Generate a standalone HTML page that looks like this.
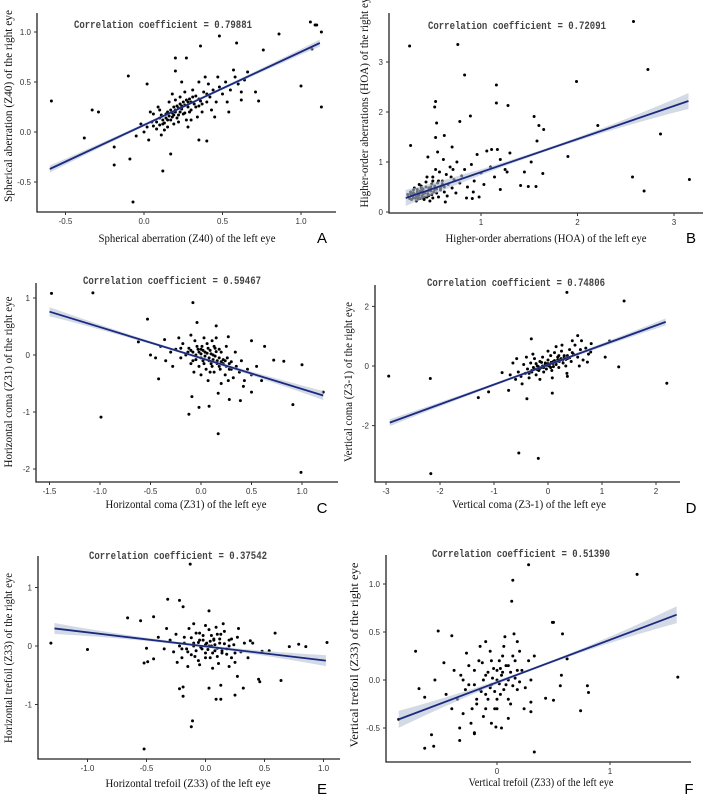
<!DOCTYPE html>
<html><head><meta charset="utf-8">
<style>
html,body{margin:0;padding:0;background:#fff;}
svg{display:block;}
.tick{font-family:"Liberation Sans",sans-serif;font-size:8px;fill:#333;}
.ttl{font-family:"Liberation Serif",serif;font-size:12px;fill:#111;}
.corr{font-family:"Liberation Mono",monospace;font-size:11px;font-weight:bold;fill:#444;}
.lett{font-family:"Liberation Sans",sans-serif;font-size:15px;fill:#000;}
</style></head>
<body>
<svg id="fig" width="708" height="799" viewBox="0 0 708 799" xmlns="http://www.w3.org/2000/svg"></svg>
<script>
// ---- data ----
const corrLabels = ["0.79881","0.72091","0.59467","0.74806","0.37542","0.51390"];
const aXTicks=[-0.5,0,0.5,1.0], aXTickLabels=["-0.5","0.0","0.5","1.0"], aYTicks=[1.0,0.5,0,-0.5], aYTickLabels=["1.0","0.5","0.0","-0.5"];
const bXTicks=[1,2,3], bXTickLabels=["1","2","3"], bYTicks=[0,1,2,3], bYTickLabels=["0","1","2","3"];
const cXTicks=[-1.5,-1,-0.5,0,0.5,1], cXTickLabels=["-1.5","-1.0","-0.5","0.0","0.5","1.0"], cYTicks=[1,0,-1,-2], cYTickLabels=["1","0","-1","-2"];
const dXTicks=[-3,-2,-1,0,1,2], dXTickLabels=["-3","-2","-1","0","1","2"], dYTicks=[2,0,-2], dYTickLabels=["2","0","-2"];
const eXTicks=[-1,-0.5,0,0.5,1], eXTickLabels=["-1.0","-0.5","0.0","0.5","1.0"], eYTicks=[1,0,-1], eYTickLabels=["1","0","-1"];
const fXTicks=[0,1], fXTickLabels=["0","1"], fYTicks=[1,0.5,0,-0.5], fYTickLabels=["1.0","0.5","0.0","-0.5"];

const aFitX=[-0.6,1.12], aFitY=[-0.37,0.89];
const bFitX=[0.22,3.15], bFitY=[0.28,2.22];
const cFitX=[-1.5,1.21], cFitY=[0.76,-0.71];
const dFitX=[-2.93,2.18], dFitY=[-1.9,1.48];
const eFitX=[-1.28,1.02], eFitY=[0.3,-0.25];
const fFitX=[-0.87,1.59], fFitY=[-0.41,0.68];

const aPoints=[[-0.59,0.31],[-0.38,-0.06],[-0.33,0.22],[-0.29,0.2],[-0.19,-0.15],[-0.19,-0.33],[-0.09,-0.27],[-0.07,-0.7],[-0.1,0.56],[0.02,0.48],[0.12,-0.39],[0.17,-0.22],[0.36,0.86],[0.48,0.96],[0.59,0.89],[0.76,0.82],[0.86,0.98],[1.0,0.46],[1.06,1.1],[1.09,1.07],[1.1,1.07],[1.13,1.0],[1.13,0.25],[1.07,0.83],[0.35,-0.08],[0.4,-0.09],[0.54,0.2],[0.71,0.4],[0.73,0.31],[0.62,0.32],[0.2,0.74],[0.27,0.74],[0.2,0.61],[0.24,0.5],
[0.02,0.05],[0.05,0.1],[0.08,0.03],[0.1,0.14],[0.12,0.08],[0.14,0.18],[0.15,0.12],[0.17,0.22],[0.18,0.15],[0.2,0.2],[0.21,0.26],[0.22,0.17],[0.24,0.23],[0.25,0.3],[0.26,0.19],[0.28,0.25],[0.29,0.33],[0.3,0.22],[0.32,0.28],[0.33,0.36],[0.35,0.26],[0.36,0.31],[0.38,0.4],[0.4,0.3],[0.42,0.35],[0.44,0.42],[0.46,0.3],[0.48,0.45],[0.5,0.38],[0.52,0.5],[0.55,0.42],[0.58,0.55],[0.6,0.48],[0.64,0.52],[0.1,0.22],[0.13,0.02],[0.16,0.3],[0.19,0.08],[0.23,0.35],[0.27,0.12],[0.31,0.42],[0.34,0.15],[0.37,0.2],[0.41,0.48],[0.43,0.22],[0.47,0.55],[0.06,0.18],[0.0,0.0],[-0.02,0.08],[-0.05,-0.04],[0.03,-0.08],[0.09,0.25],[0.2,0.32],[0.26,0.4],[0.3,0.12],[0.39,0.55],[0.45,0.15],[0.53,0.3],[0.15,0.05],[0.22,0.1],[0.11,-0.03],[0.18,0.38],[0.35,0.5],[0.28,0.05],[0.04,0.2],[0.57,0.62],[0.62,0.4],[0.66,0.6]];
const aCore=[[0.12,0.12],[0.14,0.14],[0.16,0.16],[0.18,0.19],[0.2,0.22],[0.22,0.24],[0.24,0.26],[0.26,0.27],[0.28,0.3],[0.3,0.3],[0.15,0.2],[0.19,0.25],[0.23,0.28],[0.27,0.32],[0.31,0.35],[0.13,0.09],[0.17,0.12],[0.21,0.14],[0.25,0.18],[0.29,0.2],[0.33,0.25],[0.08,0.1],[0.06,0.06],[0.1,0.07],[0.35,0.33],[0.37,0.28],[0.4,0.38],[0.11,0.17],[0.23,0.2],[0.19,0.17]];
const bPoints=[[0.26,3.32],[0.76,3.35],[2.58,3.81],[0.83,2.74],[2.73,2.85],[1.16,2.54],[1.99,2.61],[1.16,2.18],[1.28,2.13],[0.53,2.21],[0.52,2.1],[0.89,1.92],[0.78,1.81],[0.54,1.78],[1.55,1.91],[1.6,1.73],[1.65,1.65],[2.21,1.73],[2.86,1.56],[1.9,1.11],[0.62,1.53],[0.53,1.49],[0.27,1.33],[2.57,0.7],[2.69,0.42],[3.16,0.65],[1.58,1.42],[1.49,0.51],[1.57,0.51],[1.41,0.53],[1.45,0.8],[1.64,0.77],[1.52,1.0],[1.17,1.25],[1.11,1.25],[1.27,0.8],[0.91,0.27],[1.2,0.45],
[0.25,0.3],[0.28,0.25],[0.3,0.38],[0.32,0.28],[0.34,0.45],[0.35,0.32],[0.37,0.27],[0.38,0.52],[0.4,0.36],[0.42,0.3],[0.43,0.6],[0.45,0.42],[0.46,0.33],[0.48,0.5],[0.5,0.28],[0.5,0.7],[0.52,0.45],[0.54,0.38],[0.55,0.58],[0.57,0.8],[0.58,0.48],[0.6,0.62],[0.62,0.4],[0.64,0.75],[0.66,0.55],[0.68,0.9],[0.7,0.48],[0.72,0.65],[0.75,1.0],[0.78,0.58],[0.8,0.72],[0.83,0.85],[0.86,0.5],[0.9,0.95],[0.93,0.62],[0.96,1.15],[1.0,0.78],[1.03,0.55],[1.06,1.22],[1.1,0.9],[1.14,0.7],[1.2,1.05],[1.25,0.85],[1.3,1.18],[0.27,0.4],[0.33,0.22],[0.36,0.55],[0.41,0.25],[0.44,0.7],[0.47,0.22],[0.53,0.85],[0.56,0.3],[0.61,1.05],[0.65,0.32],[0.69,0.7],[0.74,0.38],[0.29,0.32],[0.31,0.48],[0.39,0.42],[0.49,0.35],[0.59,0.52],[0.63,0.2],[0.71,0.85],[0.85,0.28],[0.92,0.4],[0.98,0.3],[0.24,0.35],[0.45,1.1],[0.55,1.2],[0.7,1.3]];
const bCore=[[0.26,0.27],[0.28,0.33],[0.3,0.28],[0.31,0.36],[0.33,0.3],[0.34,0.4],[0.36,0.34],[0.37,0.42],[0.39,0.32],[0.4,0.46],[0.42,0.38],[0.43,0.5],[0.45,0.36],[0.46,0.48],[0.48,0.42],[0.49,0.56],[0.51,0.4],[0.52,0.52],[0.54,0.46],[0.56,0.62],[0.58,0.44],[0.6,0.56],[0.3,0.44],[0.35,0.26],[0.4,0.28],[0.44,0.3],[0.27,0.36],[0.5,0.62],[0.62,0.5],[0.38,0.48]];
const cPoints=[[-1.48,1.08],[-1.07,1.09],[-0.99,-1.09],[-0.53,0.63],[-0.62,0.23],[-0.42,-0.42],[-0.08,0.92],[-0.04,0.57],[0.15,0.51],[-0.12,-1.04],[-0.02,-0.92],[0.08,-0.9],[0.17,-1.38],[0.17,-0.67],[0.28,-0.78],[0.39,-0.8],[0.5,-0.65],[1.0,-0.17],[0.91,-0.87],[0.99,-2.06],[0.72,-0.09],[0.82,-0.11],[0.63,0.15],[0.5,0.25],[0.27,0.32],[1.21,-0.65],[-0.09,-0.73],[-0.2,0.12],[-0.36,0.27],
[-0.3,0.05],[-0.25,0.1],[-0.2,-0.05],[-0.18,0.2],[-0.15,0.0],[-0.12,0.12],[-0.1,-0.15],[-0.08,0.05],[-0.06,0.25],[-0.05,-0.08],[-0.03,0.1],[-0.02,-0.2],[0.0,0.02],[0.01,0.15],[0.02,-0.1],[0.04,0.05],[0.05,-0.25],[0.06,0.2],[0.08,-0.05],[0.09,0.08],[0.1,-0.15],[0.12,0.0],[0.13,-0.3],[0.14,0.12],[0.16,-0.1],[0.18,-0.2],[0.2,0.05],[0.22,-0.15],[0.24,-0.35],[0.26,-0.05],[0.28,-0.25],[0.3,-0.12],[0.32,-0.4],[0.35,-0.2],[0.38,-0.3],[0.4,-0.1],[0.43,-0.45],[0.46,-0.25],[0.5,-0.35],[-0.35,-0.1],[-0.4,0.15],[-0.45,-0.05],[-0.28,-0.2],[-0.22,0.3],[-0.1,0.35],[0.0,-0.35],[0.07,-0.45],[0.15,0.3],[0.2,-0.5],[0.25,0.15],[0.34,0.05],[0.42,-0.55],[0.55,-0.2],[0.6,-0.45],[-0.5,0.0],[0.11,0.25],[-0.07,-0.3],[0.03,0.3],[0.27,-0.45],[0.18,0.1]];
const cCore=[[-0.05,0.0],[-0.02,0.05],[0.0,-0.05],[0.02,0.08],[0.04,-0.02],[0.06,0.03],[0.08,-0.1],[0.1,0.02],[0.12,-0.08],[0.14,-0.02],[0.16,-0.15],[0.18,-0.05],[0.2,-0.12],[0.22,-0.08],[0.25,-0.2],[0.03,-0.15],[0.07,0.12],[-0.08,-0.1],[-0.1,0.08],[0.11,-0.2],[0.15,0.06],[0.19,-0.25],[0.24,-0.1],[0.28,-0.15],[0.3,-0.25],[-0.04,0.15],[0.0,0.1],[0.09,-0.3],[0.13,0.15],[-0.13,0.05]];
const dPoints=[[-2.95,-0.34],[-2.18,-0.42],[-2.17,-3.61],[-1.29,-1.06],[-1.1,-0.87],[-0.54,-2.92],[-0.18,-3.1],[0.35,2.47],[1.41,2.18],[2.2,-0.58],[1.31,-0.03],[1.06,0.3],[1.14,0.84],[0.55,1.02],[-0.31,0.91],[0.08,-0.91],[-0.39,-1.1],[-0.73,-0.82],[-0.85,-0.22],[0.73,0.13],[0.79,0.47],[0.36,-0.35],
[-0.7,-0.3],[-0.6,-0.45],[-0.55,-0.2],[-0.5,-0.35],[-0.45,0.05],[-0.42,-0.25],[-0.38,-0.1],[-0.35,-0.4],[-0.32,0.1],[-0.3,-0.2],[-0.27,-0.05],[-0.25,0.25],[-0.22,-0.3],[-0.2,0.0],[-0.17,-0.15],[-0.15,0.15],[-0.12,-0.05],[-0.1,0.3],[-0.08,-0.2],[-0.05,0.1],[-0.03,-0.1],[0.0,0.2],[0.02,0.0],[0.05,0.35],[0.07,-0.15],[0.1,0.15],[0.12,0.45],[0.15,0.05],[0.18,0.3],[0.2,-0.05],[0.22,0.2],[0.25,0.5],[0.28,0.1],[0.3,0.35],[0.33,0.0],[0.36,0.25],[0.4,0.55],[0.43,0.15],[0.47,0.4],[0.5,0.7],[0.55,0.3],[0.6,0.55],[0.65,0.2],[0.7,0.6],[0.75,0.4],[0.8,0.75],[-0.65,0.1],[-0.48,-0.6],[-0.28,0.4],[-0.15,-0.45],[0.0,0.5],[0.08,-0.4],[0.26,0.7],[0.35,-0.25],[0.45,0.85],[0.58,0.0],[-0.4,0.3],[0.15,0.65],[0.62,0.85],[-0.58,0.25]];
const dCore=[[-0.3,-0.15],[-0.25,-0.1],[-0.2,-0.12],[-0.18,-0.02],[-0.15,-0.08],[-0.1,0.0],[-0.08,-0.05],[-0.05,0.05],[-0.02,0.02],[0.0,0.08],[0.03,0.05],[0.06,0.12],[0.09,0.08],[0.12,0.18],[0.15,0.12],[0.18,0.2],[0.21,0.15],[0.24,0.25],[0.27,0.2],[0.3,0.3],[0.33,0.22],[0.36,0.35],[0.4,0.28],[-0.35,-0.25],[-0.12,0.12],[0.05,-0.05],[0.2,0.35],[-0.22,0.08],[0.1,-0.02],[0.45,0.45]];
const ePoints=[[-1.31,0.05],[-1.0,-0.06],[-0.66,0.48],[-0.55,0.43],[-0.44,0.5],[-0.32,0.8],[-0.22,0.78],[-0.19,0.67],[-0.13,1.4],[0.03,0.6],[-0.52,-0.29],[-0.49,-0.27],[-0.44,-0.22],[-0.5,-0.04],[-0.22,-0.73],[-0.19,-0.7],[-0.19,-0.86],[-0.11,-1.28],[-0.12,-1.38],[-0.52,-1.76],[0.03,-0.72],[0.13,-0.67],[0.09,-0.91],[0.13,-0.91],[0.25,-0.84],[0.27,-0.52],[0.32,-0.72],[0.45,-0.57],[0.46,-0.61],[0.64,-0.59],[0.59,0.22],[0.38,0.09],[0.71,-0.01],[0.79,0.03],[0.85,-0.01],[1.03,0.06],[0.54,-0.08],[0.48,-0.09],
[-0.3,0.1],[-0.27,-0.1],[-0.25,0.2],[-0.22,0.0],[-0.2,-0.2],[-0.18,0.15],[-0.16,-0.05],[-0.14,0.3],[-0.12,-0.15],[-0.1,0.05],[-0.08,0.22],[-0.06,-0.25],[-0.05,0.1],[-0.03,-0.05],[-0.02,0.18],[0.0,-0.12],[0.01,0.05],[0.03,0.28],[0.04,-0.2],[0.05,0.0],[0.07,0.12],[0.08,-0.08],[0.1,0.2],[0.11,-0.3],[0.12,0.05],[0.14,-0.12],[0.16,0.25],[0.18,-0.05],[0.2,0.1],[0.22,-0.2],[0.24,0.02],[0.27,0.15],[0.3,-0.1],[0.33,0.05],[-0.35,-0.05],[-0.4,0.15],[-0.33,0.3],[-0.15,-0.35],[0.0,0.35],[0.06,-0.38],[0.15,0.38],[0.2,-0.35],[0.28,0.3],[0.36,-0.2],[-0.05,-0.32],[-0.1,0.38],[0.09,0.32],[-0.24,-0.28],[0.25,-0.28],[0.4,0.05]];
const eCore=[[-0.1,0.0],[-0.08,-0.08],[-0.06,0.06],[-0.04,-0.02],[-0.02,0.1],[0.0,0.02],[0.02,-0.06],[0.04,0.08],[0.06,-0.12],[0.08,0.02],[0.1,-0.04],[0.12,0.12],[0.14,-0.08],[0.16,0.04],[0.18,-0.14],[-0.12,0.14],[-0.15,-0.1],[-0.18,0.05],[0.0,-0.2],[0.05,0.18],[0.1,-0.18],[0.2,0.0],[0.22,0.12],[-0.2,-0.05],[0.25,-0.12],[-0.05,0.22],[0.03,0.0],[0.07,0.1],[-0.09,-0.18],[0.13,0.2]];
const fPoints=[[-0.87,-0.41],[-0.72,0.3],[-0.64,-0.71],[-0.56,-0.69],[-0.58,-0.57],[-0.52,0.51],[-0.4,0.46],[-0.47,0.18],[0.28,1.2],[0.14,1.04],[0.13,0.82],[1.24,1.1],[0.49,0.6],[0.5,0.6],[0.58,0.48],[0.62,0.22],[0.57,0.05],[0.56,-0.06],[0.5,-0.21],[0.43,-0.19],[0.8,-0.06],[0.81,-0.13],[0.74,-0.32],[1.6,0.03],[0.33,-0.75],[-0.2,-0.56],[-0.33,-0.63],[-0.01,-0.49],[-0.69,-0.09],[-0.64,-0.18],[-0.55,0.0],[0.3,-0.23],[0.3,-0.33],
[-0.35,-0.2],[-0.32,0.05],[-0.3,-0.35],[-0.28,-0.1],[-0.25,0.15],[-0.23,-0.45],[-0.2,-0.05],[-0.18,-0.25],[-0.16,0.2],[-0.14,-0.12],[-0.12,-0.38],[-0.1,0.05],[-0.08,-0.2],[-0.06,0.3],[-0.05,-0.05],[-0.03,0.12],[-0.02,-0.3],[0.0,0.0],[0.02,0.2],[0.03,-0.15],[0.05,0.08],[0.06,0.35],[0.08,-0.05],[0.1,0.15],[0.12,-0.25],[0.14,0.25],[0.16,0.02],[0.18,-0.1],[0.2,0.3],[0.22,0.1],[0.25,-0.08],[0.28,0.2],[0.3,0.0],[-0.4,-0.3],[-0.38,0.1],[-0.27,0.28],[-0.2,-0.55],[-0.1,0.4],[-0.05,-0.45],[0.0,-0.3],[0.07,0.45],[0.1,-0.4],[0.18,0.4],[0.24,-0.3],[-0.15,0.35],[-0.33,-0.5],[0.33,0.25],[-0.45,-0.15],[0.04,-0.5],[0.15,0.48]];
const fCore=[[-0.15,-0.1],[-0.12,0.0],[-0.1,-0.15],[-0.08,0.08],[-0.06,-0.08],[-0.04,0.02],[-0.02,-0.12],[0.0,0.1],[0.02,-0.04],[0.04,0.05],[0.06,-0.1],[0.08,0.15],[0.1,0.0],[0.12,0.08],[0.14,-0.06],[-0.2,0.1],[-0.18,-0.2],[-0.25,-0.05],[0.16,0.2],[0.2,-0.02],[-0.05,0.2],[0.0,-0.2],[0.05,0.25],[-0.1,-0.3],[0.1,-0.2],[-0.22,-0.3],[0.18,0.1],[-0.3,0.0],[0.03,0.12],[-0.13,0.18]];

// ---- layout ----
const NS="http://www.w3.org/2000/svg";
const svg=document.getElementById('fig');
function mk(tag,attrs,parent){const e=document.createElementNS(NS,tag);for(const k in attrs)e.setAttribute(k,attrs[k]);(parent||svg).appendChild(e);return e;}

const panels=[
 {id:'a',L:37,R:336,T:13,B:212,x0:144,xs:157,y0:132,ys:100,xt:aXTicks,xl:aXTickLabels,yt:aYTicks,yl:aYTickLabels,fx:aFitX,fy:aFitY,pts:aPoints.concat(aCore),bw:[3.5,1.2],
  xt1:"Spherical aberration (Z40) of the left eye",xtc:187,xty:242,xtw:177,
  yt1:"Spherical aberration (Z40) of the right eye",ytx:12,ytc:106,ytw:192,cx:163,cy:28,lx:322,ly:243,letter:"A"},
 {id:'b',L:389,R:703,T:13,B:213,x0:384.5,xs:96.5,y0:212,ys:50,xt:bXTicks,xl:bXTickLabels,yt:bYTicks,yl:bYTickLabels,fx:bFitX,fy:bFitY,pts:bPoints.concat(bCore),bw:[8,1.5],
  xt1:"Higher-order aberrations (HOA) of the left eye",xtc:546,xty:242,xtw:201,
  yt1:"Higher-order aberrations (HOA) of the right eye",ytx:368,ytc:100,ytw:215,cx:517,cy:29,lx:691,ly:243,letter:"B"},
 {id:'c',L:36,R:338,T:283,B:482,x0:201,xs:101,y0:355,ys:57,xt:cXTicks,xl:cXTickLabels,yt:cYTicks,yl:cYTickLabels,fx:cFitX,fy:cFitY,pts:cPoints.concat(cCore),bw:[4.5,1.2],
  xt1:"Horizontal coma (Z31) of the left eye",xtc:186,xty:508,xtw:161,
  yt1:"Horizontal coma (Z31) of the right eye",ytx:12,ytc:382,ytw:171,cx:172,cy:284,lx:322,ly:513,letter:"C"},
 {id:'d',L:375,R:680,T:285,B:482,x0:548,xs:54,y0:366,ys:29.8,xt:dXTicks,xl:dXTickLabels,yt:dYTicks,yl:dYTickLabels,fx:dFitX,fy:dFitY,pts:dPoints.concat(dCore),bw:[3.5,1.2],
  xt1:"Vertical coma (Z3-1) of the left eye",xtc:529,xty:508,xtw:154,
  yt1:"Vertical coma (Z3-1) of the right eye",ytx:352,ytc:382,ytw:160,cx:516,cy:286,lx:691,ly:513,letter:"D"},
 {id:'e',L:38,R:340,T:556,B:759,x0:205.5,xs:118,y0:646,ys:58.5,xt:eXTicks,xl:eXTickLabels,yt:eYTicks,yl:eYTickLabels,fx:eFitX,fy:eFitY,pts:ePoints.concat(eCore),bw:[5.5,1.2],
  xt1:"Horizontal trefoil (Z33) of the left eye",xtc:188,xty:787,xtw:165,
  yt1:"Horizontal trefoil (Z33) of the right eye",ytx:12,ytc:658,ytw:170,cx:178,cy:559,lx:322,ly:794,letter:"E"},
 {id:'f',L:386,R:691,T:555,B:762,x0:497,xs:113,y0:680,ys:96,xt:fXTicks,xl:fXTickLabels,yt:fYTicks,yl:fYTickLabels,fx:fFitX,fy:fFitY,pts:fPoints.concat(fCore),bw:[8.5,1.2],
  xt1:"Vertical trefoil (Z33) of the left eye",xtc:541,xty:786,xtw:145,
  yt1:"Vertical trefoil (Z33) of the right eye",ytx:358,ytc:655,ytw:185,cx:521,cy:557,lx:689,ly:794,letter:"F"}
];

panels.forEach(p=>{
  const sx=v=>p.x0+v*p.xs, sy=v=>p.y0-v*p.ys;
  const g=mk('g',{});
  
  
  const pg=mk('g',{fill:'#000'},g);
  
  
  p.pts.forEach(pt=>{
    const c=mk('circle',{cx:sx(pt[0]).toFixed(1),cy:sy(pt[1]).toFixed(1),r:1.5},pg);
    
    
  });
  const n=30, up=[], lo=[];
  const xm=(p.fx[0]+p.fx[1])/2, half=(p.fx[1]-p.fx[0])/2;
  for(let i=0;i<=n;i++){
    const x=p.fx[0]+(p.fx[1]-p.fx[0])*i/n;
    const y=p.fy[0]+(p.fy[1]-p.fy[0])*i/n;
    const t=(x-xm)/half;
    const w=p.bw[1]+(p.bw[0]-p.bw[1])*t*t;
    up.push(sx(x).toFixed(1)+','+(sy(y)-w).toFixed(1));
    lo.unshift(sx(x).toFixed(1)+','+(sy(y)+w).toFixed(1));
  }
  const band=mk('polygon',{points:up.concat(lo).join(' '),fill:'#b8c2d4','fill-opacity':0.6},g);
  
  
  const ln=mk('line',{x1:sx(p.fx[0]),y1:sy(p.fy[0]),x2:sx(p.fx[1]),y2:sy(p.fy[1]),stroke:'#1a2a80','stroke-width':1.8},g);
  
  
  const ax=mk('path',{d:`M${p.L},${p.T} V${p.B} H${p.R}`,fill:'none',stroke:'#222','stroke-width':1.3},g);
  
  
  p.xt.forEach((v,i)=>{
    const x=sx(v);
    mk('line',{x1:x,y1:p.B,x2:x,y2:p.B+3,stroke:'#333','stroke-width':1},g);
    const t=mk('text',{x:x,y:p.B+12,'text-anchor':'middle',class:'tick'},g);
    t.textContent=p.xl[i];
    
    
  });
  p.yt.forEach((v,i)=>{
    const y=sy(v);
    mk('line',{x1:p.L-3,y1:y,x2:p.L,y2:y,stroke:'#333','stroke-width':1},g);
    const t=mk('text',{x:p.L-6,y:y+3,'text-anchor':'end',class:'tick'},g);
    t.textContent=p.yl[i];
    
    
  });
  const xt=mk('text',{x:p.xtc,y:p.xty,'text-anchor':'middle',class:'ttl',textLength:p.xtw,lengthAdjust:'spacingAndGlyphs'},g);
  xt.textContent=p.xt1;
  
  
  const yt=mk('text',{x:0,y:0,'text-anchor':'middle',class:'ttl',textLength:p.ytw,lengthAdjust:'spacingAndGlyphs',transform:`translate(${p.ytx},${p.ytc}) rotate(-90)`},g);
  yt.textContent=p.yt1;
  
  
  const ct=mk('text',{x:p.cx,y:p.cy,'text-anchor':'middle',class:'corr',textLength:178,lengthAdjust:'spacingAndGlyphs'},g);
  ct.textContent='Correlation coefficient = '+corrLabels[panels.indexOf(p)];
  
  
  const lt=mk('text',{x:p.lx,y:p.ly,'text-anchor':'middle',class:'lett'},g);
  lt.textContent=p.letter;
  
  
});
</script>
</body></html>
